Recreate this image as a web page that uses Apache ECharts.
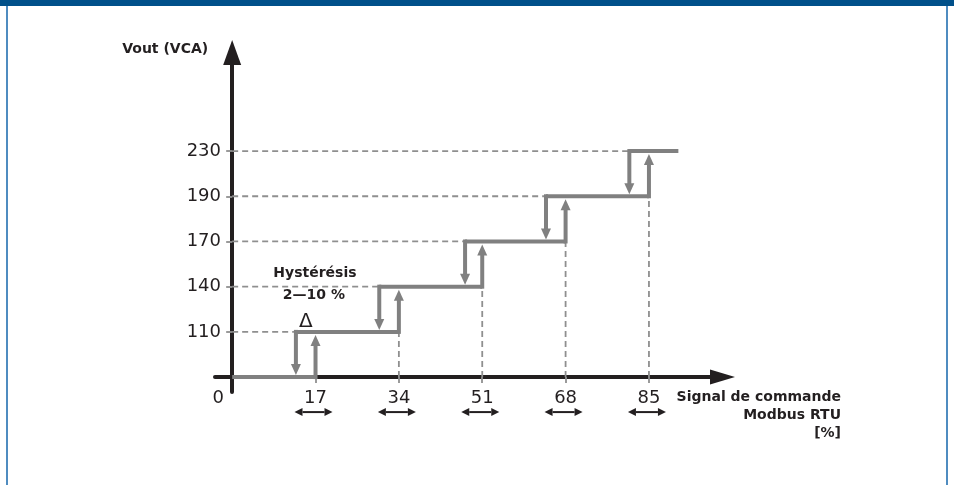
<!DOCTYPE html>
<html><head><meta charset="utf-8">
<script src="https://cdn.jsdelivr.net/npm/echarts@6/dist/echarts.min.js"></script>
<style>html,body{margin:0;padding:0;background:#fff}#c{width:954px;height:485px}</style>
</head><body><div id="c"></div>
<script>
// ---- data ----
const yLevelLabels = ['110', '140', '170', '190', '230'];
const yLevels = [1, 2, 3, 4, 5];
const xTickValues = [17, 34, 51, 68, 85];
const xLabelValues = [0, 17, 34, 51, 68, 85];
const stepUpX = [17, 34, 51, 68, 85];
const stepDownX = [13, 30, 47.5, 64, 81];
const stepEndX = 91;
const yAxisName = 'Vout (VCA)';
const xAxisName = 'Signal de commande\nModbus RTU\n[%]';
const hystTitle = 'Hystérésis';
const hystRange = '2—10 %';
const deltaSign = 'Δ';

// ---- styles ----
const BLACK = '#231f20';
const GRAY = '#808080';
const DASH = '#8f8f8f';
const NUM_FONT = 'DejaVu Sans';
const BOLD_FONT = 'DejaVu Sans';

// ---- derived segments ----
const nLev = stepUpX.length;
const stepSegments = [[0, 0, stepUpX[0], 0]];
for (let k = 1; k < nLev; k++) stepSegments.push([stepDownX[k - 1], k, stepUpX[k], k]);
stepSegments.push([stepDownX[nLev - 1], nLev, stepEndX, nLev]);
const upArrows = stepUpX.map((x, k) => [x, k, x, k + 1]);
const downArrows = stepDownX.map((x, k) => [x, k + 1, x, k]);
const dashH = stepDownX.map((x, k) => [0, k + 1, x, k + 1]);
const dashV = stepUpX.slice(1).map((x, i) => [x, 0, x, i + 1]);

function segItem(stroke, width, dash) {
  return function (params, api) {
    const p1 = api.coord([api.value(0), api.value(1)]);
    const p2 = api.coord([api.value(2), api.value(3)]);
    return {
      type: 'line',
      shape: { x1: p1[0], y1: p1[1], x2: p2[0], y2: p2[1] },
      style: { stroke: stroke, lineWidth: width, lineDash: dash || null, lineCap: 'butt' }
    };
  };
}
function arrowItem(gap) {
  return function (params, api) {
    const p1 = api.coord([api.value(0), api.value(1)]);
    const p2 = api.coord([api.value(2), api.value(3)]);
    const dx = p2[0] - p1[0], dy = p2[1] - p1[1];
    const len = Math.hypot(dx, dy), ux = dx / len, uy = dy / len;
    const tip = [p2[0] - ux * gap, p2[1] - uy * gap];
    const HL = 11, HW = 5;
    const base = [tip[0] - ux * HL, tip[1] - uy * HL];
    return {
      type: 'group',
      children: [
        { type: 'line', shape: { x1: p1[0], y1: p1[1], x2: base[0] + ux, y2: base[1] + uy },
          style: { stroke: GRAY, lineWidth: 4, lineCap: 'square' } },
        { type: 'polygon', shape: { points: [tip, [base[0] - uy * HW, base[1] + ux * HW], [base[0] + uy * HW, base[1] - ux * HW]] },
          style: { fill: GRAY } }
      ]
    };
  };
}
function doubleArrowItem(params, api) {
  const p = api.coord([api.value(0), api.value(1)]);
  const cx = p[0] - 2, cy = p[1] + 35;
  const half = 19, HL = 8, HW = 4;
  return {
    type: 'group',
    children: [
      { type: 'line', shape: { x1: cx - half + HL, y1: cy, x2: cx + half - HL, y2: cy }, style: { stroke: BLACK, lineWidth: 2 } },
      { type: 'polygon', shape: { points: [[cx - half, cy], [cx - half + HL, cy - HW], [cx - half + HL, cy + HW]] }, style: { fill: BLACK } },
      { type: 'polygon', shape: { points: [[cx + half, cy], [cx + half - HL, cy - HW], [cx + half - HL, cy + HW]] }, style: { fill: BLACK } }
    ]
  };
}
function annotItem(params, api) {
  const p = api.coord([api.value(0), api.value(1)]);
  const bold = 'bold 14px "' + BOLD_FONT + '"';
  return {
    type: 'group',
    children: [
      { type: 'text', x: p[0] + 19, y: p[1] - 59, style: { text: hystTitle, font: bold, fill: BLACK, align: 'center', verticalAlign: 'middle' } },
      { type: 'text', x: p[0] + 18, y: p[1] - 37, style: { text: hystRange, font: bold, fill: BLACK, align: 'center', verticalAlign: 'middle' } },
      { type: 'text', x: p[0] + 10, y: p[1] - 10, style: { text: deltaSign, font: '20px "' + NUM_FONT + '"', fill: BLACK, align: 'center', verticalAlign: 'middle' } }
    ]
  };
}

const chart = echarts.init(document.getElementById('c'), null, { renderer: 'canvas' });
chart.setOption({
  animation: false,
  backgroundColor: '#ffffff',
  graphic: [
    { type: 'rect', shape: { x: 0, y: 0, width: 954, height: 6 }, style: { fill: '#00508a' }, z: 100 },
    { type: 'rect', shape: { x: 6, y: 6, width: 2, height: 479 }, style: { fill: '#4f8cc0' }, z: 100 },
    { type: 'rect', shape: { x: 946, y: 6, width: 2, height: 479 }, style: { fill: '#4f8cc0' }, z: 100 }
  ],
  grid: { left: 215, right: 231.5, top: 52.5, bottom: 93, containLabel: false, outerBoundsMode: 'none' },
  xAxis: {
    type: 'value', min: -3.5, max: 100,
    axisLine: { show: true, onZero: true, symbol: ['none', 'triangle'], symbolSize: [15, 25], lineStyle: { color: BLACK, width: 4 } },
    axisTick: { show: true, customValues: xTickValues, length: 6, lineStyle: { color: DASH, width: 1.8 } },
    axisLabel: {
      show: true, customValues: xLabelValues, margin: -3,
      fontSize: 18, fontFamily: NUM_FONT, color: BLACK,
      formatter: function (v) { return v === 0 ? '{z|0}' : String(v); },
      rich: { z: { fontSize: 18, fontFamily: NUM_FONT, color: BLACK, padding: [0, 28, 0, 0] } }
    },
    splitLine: { show: false },
    name: xAxisName, nameLocation: 'end', nameGap: 118.5, nameMoveOverlap: false,
    nameTextStyle: { fontFamily: BOLD_FONT, fontWeight: 'bold', fontSize: 14, color: BLACK, align: 'right', verticalAlign: 'top', lineHeight: 18, padding: [11, 0, 0, 0] }
  },
  yAxis: {
    type: 'value', min: -0.33, max: 7.18,
    axisLine: { show: true, onZero: true, symbol: ['none', 'triangle'], symbolSize: [18, 25], lineStyle: { color: BLACK, width: 4 } },
    axisTick: { show: true, customValues: yLevels, length: 6, lineStyle: { color: DASH, width: 1.8 } },
    axisLabel: {
      show: true, customValues: yLevels, margin: -6,
      fontSize: 18, fontFamily: NUM_FONT, color: BLACK,
      formatter: function (v) { return yLevelLabels[Math.round(v) - 1] || ''; }
    },
    splitLine: { show: false },
    name: yAxisName, nameLocation: 'end', nameGap: 3, nameMoveOverlap: false,
    nameTextStyle: { fontFamily: BOLD_FONT, fontWeight: 'bold', fontSize: 14, color: BLACK, align: 'right', verticalAlign: 'middle', padding: [0, 24, 0, 0] }
  },
  series: [
    { type: 'custom', name: 'dashH', z: 1, data: dashH, encode: { x: [0, 2], y: [1, 3] }, renderItem: segItem(DASH, 1.8, [6, 4]), silent: true },
    { type: 'custom', name: 'dashV', z: 1, data: dashV, encode: { x: [0, 2], y: [1, 3] }, renderItem: segItem(DASH, 1.8, [6, 4]), silent: true },
    { type: 'custom', name: 'steps', z: 3, data: stepSegments, encode: { x: [0, 2], y: [1, 3] }, renderItem: segItem(GRAY, 4), silent: true },
    { type: 'custom', name: 'up', z: 4, data: upArrows, encode: { x: [0, 2], y: [1, 3] }, renderItem: arrowItem(3), silent: true },
    { type: 'custom', name: 'down', z: 4, data: downArrows, encode: { x: [0, 2], y: [1, 3] }, renderItem: arrowItem(2), silent: true },
    { type: 'custom', name: 'band', z: 4, data: xTickValues.map(x => [x, 0]), encode: { x: 0, y: 1 }, renderItem: doubleArrowItem, silent: true, clip: false },
    { type: 'custom', name: 'annot', z: 4, data: [[stepDownX[0], 1]], encode: { x: 0, y: 1 }, renderItem: annotItem, silent: true, clip: false }
  ]
});
</script>
</body></html>
